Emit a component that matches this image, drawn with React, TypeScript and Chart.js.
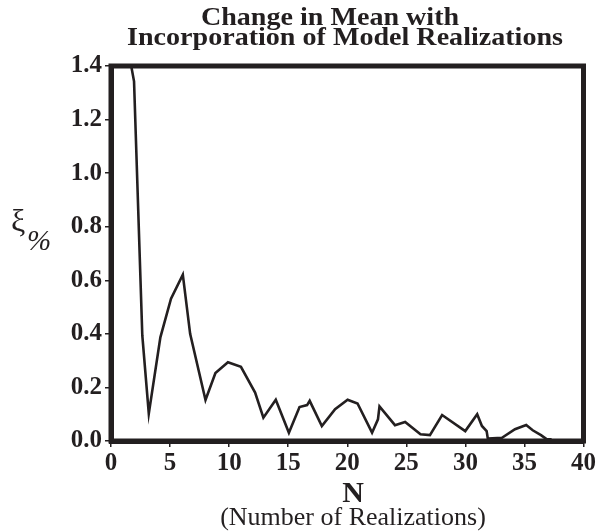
import React, { useEffect, useRef } from "react";
import { Chart, registerables } from "chart.js";

Chart.register(...registerables);

const realizationsN: number[] = [1, 1.95, 2.65, 3.2, 4.18, 5.08, 6.08, 6.7, 8.0, 8.84, 9.9, 11.0, 12.2, 12.9, 13.95, 15.06, 15.96, 16.6, 16.82, 17.85, 18.97, 20.03, 20.87, 22.1, 22.6, 22.73, 24.04, 24.9, 26.2, 27.0, 28.03, 29.99, 31.0, 31.4, 31.8, 31.9, 33.1, 34.2, 35.15, 35.7, 36.4, 36.9, 37.3];
const xiPercent: number[] = [1.57, 1.343, 0.394, 0.102, 0.387, 0.531, 0.621, 0.4, 0.153, 0.254, 0.294, 0.277, 0.181, 0.087, 0.154, 0.031, 0.127, 0.134, 0.15, 0.056, 0.119, 0.154, 0.14, 0.031, 0.081, 0.129, 0.059, 0.071, 0.025, 0.022, 0.097, 0.037, 0.1, 0.056, 0.037, 0.009, 0.012, 0.044, 0.06, 0.04, 0.022, 0.006, 0.006];

const titleLines: string[] = ["Change in Mean with", "Incorporation of Model Realizations"];
const xTitle = "N";
const xSubtitle = "(Number of Realizations)";
const yTitleMain = "ξ";
const yTitleSub = "%";

const INK = "#231f20";
const SERIF = "Liberation Serif";

const textPlugin = {
  id: "textPlugin",
  afterDraw(chart: any) {
    const { ctx, chartArea } = chart;
    ctx.save();
    ctx.fillStyle = INK;
    ctx.strokeStyle = INK;
    ctx.lineWidth = 5;
    ctx.lineJoin = "miter";
    ctx.strokeRect(chartArea.left, chartArea.top, chartArea.right - chartArea.left, chartArea.bottom - chartArea.top);

    ctx.font = `bold 26px "${SERIF}"`;
    ctx.textAlign = "center";
    ctx.textBaseline = "alphabetic";
    const titleCenters = [330, 345];
    const titleBase = [25, 45];
    titleLines.forEach((t, i) => {
      ctx.save();
      ctx.translate(titleCenters[i], titleBase[i]);
      ctx.scale(1.08, 1);
      ctx.fillText(t, 0, 0);
      ctx.restore();
    });

    ctx.font = `bold 30px "${SERIF}"`;
    ctx.fillText(xTitle, 353, 502);
    ctx.font = `26px "${SERIF}"`;
    ctx.fillText(xSubtitle, 353, 525);

    ctx.textAlign = "left";
    ctx.font = `32px "${SERIF}"`;
    ctx.fillText(yTitleMain, 11, 231);
    ctx.font = `italic 29px "${SERIF}"`;
    ctx.fillText(yTitleSub, 27, 250);
    ctx.restore();
  },
};

export default function App() {
  const ref = useRef<HTMLCanvasElement | null>(null);
  useEffect(() => {
    let chart: Chart | null = null;
    let cancelled = false;
    const make = () => {
      if (cancelled || !ref.current) return;
      chart = new Chart(ref.current, {
        type: "scatter",
        data: {
          datasets: [
            {
              data: realizationsN.map((n, i) => ({ x: n, y: xiPercent[i] })),
              showLine: true,
              borderColor: INK,
              borderWidth: 2.6,
              pointRadius: 0,
              tension: 0,
              clip: 0,
            } as any,
          ],
        },
        options: {
          responsive: false,
          animation: false,
          devicePixelRatio: 1,
          layout: { autoPadding: false, padding: { top: 66, right: 10, left: 0, bottom: 0 } } as any,
          plugins: { legend: { display: false }, tooltip: { enabled: false }, title: { display: false } },
          scales: {
            x: {
              type: "linear",
              min: 0,
              max: 40,
              afterFit: (s: any) => {
                s.height = 91;
              },
              ticks: {
                stepSize: 5,
                autoSkip: false,
                maxRotation: 0,
                padding: 2,
                color: INK,
                font: { family: SERIF, size: 25, weight: "bold" },
              },
              grid: { drawOnChartArea: false, drawTicks: true, tickLength: 6, color: INK, lineWidth: 1.5 },
              border: { display: true, width: 5, color: INK },
            },
            y: {
              type: "linear",
              min: 0,
              max: 1.4,
              afterFit: (s: any) => {
                s.width = 111;
              },
              ticks: {
                stepSize: 0.2,
                autoSkip: false,
                padding: 3,
                color: INK,
                font: { family: SERIF, size: 25, weight: "bold" },
                callback: (v: any) => Number(v).toFixed(1),
              },
              grid: { drawOnChartArea: false, drawTicks: true, tickLength: 6, color: INK, lineWidth: 1.5 },
              border: { display: true, width: 5, color: INK },
            },
          },
        } as any,
        plugins: [textPlugin],
      });
    };
    const fontsApi: any = (document as any).fonts;
    if (fontsApi && fontsApi.load) {
      Promise.all([
        fontsApi.load(`bold 24px "${SERIF}"`),
        fontsApi.load(`24px "${SERIF}"`),
        fontsApi.load(`italic 24px "${SERIF}"`),
      ])
        .catch(() => null)
        .then(make);
    } else {
      make();
    }
    return () => {
      cancelled = true;
      if (chart) chart.destroy();
    };
  }, []);
  return (
    <div style={{ position: "fixed", left: 0, top: 0, width: 598, height: 532, background: "#fff" }}>
      <canvas ref={ref} width={598} height={532} />
    </div>
  );
}
